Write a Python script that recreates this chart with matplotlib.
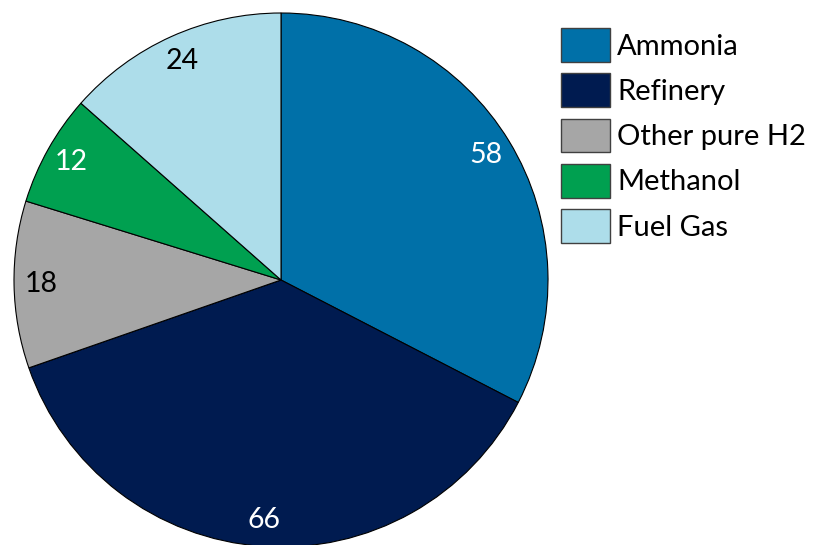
import matplotlib.pyplot as plt

categories = ["Ammonia", "Refinery", "Other pure H2", "Methanol", "Fuel Gas"]
values = [58, 66, 18, 12, 24]
colors = ["#0070A8", "#001B50", "#A6A6A6", "#00A050", "#ADDDEA"]
label_colors = ["white", "white", "black", "white", "black"]

plt.rcParams["font.family"] = ["Lato", "DejaVu Sans"]

W, H = 817, 545
fig = plt.figure(figsize=(W / 100, H / 100), dpi=100)

# pie centre (281, 280) px, radius 267 px
R = 267
cx, cy = 281, H - 280
ax = fig.add_axes([(cx - R) / W, (cy - R) / H, 2 * R / W, 2 * R / H])

total = sum(values)
wedges, _, autotexts = ax.pie(
    values, colors=colors, startangle=90, counterclock=False, radius=1,
    wedgeprops=dict(edgecolor="black", linewidth=0.8),
    autopct=lambda p: f"{round(p * total / 100)}", pctdistance=0.9,
    textprops=dict(fontsize=20.5),
)
for t, c in zip(autotexts, label_colors):
    t.set_color(c)
ax.set_xlim(-1, 1)
ax.set_ylim(-1, 1)
ax.set_aspect("equal")
ax.axis("off")

fs = 21
leg = fig.legend(
    wedges, categories, loc="upper left", bbox_to_anchor=(561 / W, 1 - 28 / H),
    frameon=False, fontsize=fs, handlelength=1.68, handleheight=1.41,
    handletextpad=0.25, labelspacing=0.39, borderaxespad=0, borderpad=0,
)
for h in leg.legend_handles:
    h.set_edgecolor("#404040")
    h.set_linewidth(1.0)

fig.savefig("out.png", dpi=100)
